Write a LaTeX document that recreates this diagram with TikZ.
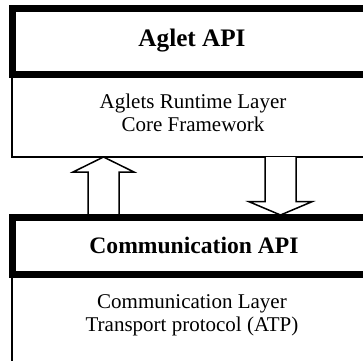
\documentclass[tikz,border=0pt]{standalone}
\usepackage{fontspec}
\setmainfont{Liberation Serif}
\begin{document}
\begin{tikzpicture}[x=0.5pt,y=-0.5pt,
  layerbox/.style={draw,line width=0.75pt,fill=white},
  apibox/.style={draw,line width=3.5pt,fill=white},
  blockarrow/.style={draw,line width=0.75pt,fill=white,line join=miter},
  apitext/.style={font=\fontsize{11.8}{14}\selectfont\bfseries,anchor=base},
  layertext/.style={font=\fontsize{10.5}{11.7}\selectfont,align=center,anchor=base}]
\useasboundingbox (0,0) rectangle (363,360);
\clip (0,0) rectangle (363,360);
\coordinate (R0) at (12,40);
\coordinate (R1) at (374,157);
\coordinate (T0) at (12,250);
\coordinate (T1) at (374,420);
\coordinate (A0) at (12,8.5);
\coordinate (A1) at (374,74);
\coordinate (C0) at (12,217);
\coordinate (C1) at (374,274.8);
\coordinate (up0) at (103.5,214);
\coordinate (up1) at (103.5,157);
\coordinate (dn0) at (280.5,157);
\coordinate (dn1) at (280.5,215);
\draw [layerbox] (R0) rectangle (R1);
\draw [layerbox] (T0) rectangle (T1);
\draw [blockarrow] (up0) ++(-15.5,0) -- ++(0,-42) -- ++(-15,0) -- (up1) -- ++(30.5,15) -- ++(-15,0) -- ++(0,42);
\draw [blockarrow] (dn0) ++(-15.5,0) -- ++(0,44.7) -- ++(-16,0) -- (dn1) -- ++(31.5,-13.3) -- ++(-16,0) -- ++(0,-44.7);
\draw [apibox] (A0) rectangle (A1);
\draw [apibox] (C0) rectangle (C1);
\node [apitext,font=\fontsize{12.6}{14}\selectfont\bfseries] (aglet) at (192,46.7) {Aglet API};
\node [layertext] (runtime) at (193,131.7) {Aglets Runtime Layer\\Core Framework};
\node [apitext] (comm) at (194,253.3) {Communication API};
\node [layertext] (transport) at (192,331.7) {Communication Layer\\Transport protocol (ATP)};
\end{tikzpicture}
\end{document}
